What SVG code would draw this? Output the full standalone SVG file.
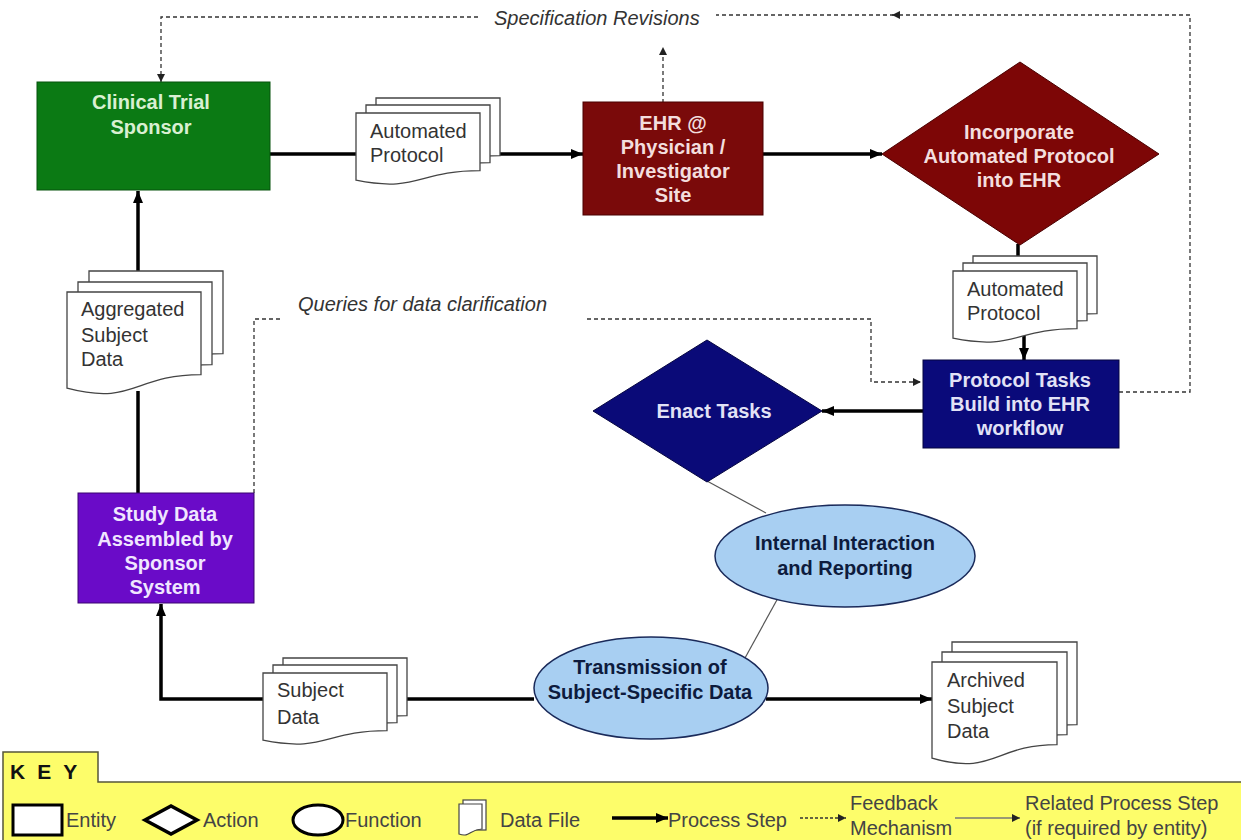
<svg xmlns="http://www.w3.org/2000/svg" width="1241" height="840" viewBox="0 0 1241 840">
<defs>
<style>
.bold{font-family:"Liberation Sans",Arial,sans-serif;font-weight:bold;font-size:20px;text-anchor:middle}
.doc{font-family:"Liberation Sans",Arial,sans-serif;font-size:20px;fill:#333}
.lbl{font-family:"Liberation Sans",Arial,sans-serif;font-style:italic;font-size:20px;fill:#333}
.key{font-family:"Liberation Sans",Arial,sans-serif;font-size:20px;fill:#444}
.page{fill:#fff;stroke:#444;stroke-width:1.3}
.thick{fill:none;stroke:#000;stroke-width:3.5}
.thin{fill:none;stroke:#555;stroke-width:1.2}
.dash{fill:none;stroke:#333;stroke-width:1.3;stroke-dasharray:4 3}
</style>
<marker id="ah" markerUnits="userSpaceOnUse" markerWidth="12" markerHeight="10" refX="12" refY="5" orient="auto"><path d="M0,0 L12,5 L0,10 z" fill="#000"/></marker>
<marker id="ahs" markerUnits="userSpaceOnUse" markerWidth="8" markerHeight="8" refX="8" refY="4" orient="auto"><path d="M0,0 L8,4 L0,8 z" fill="#222"/></marker>
<path id="doc72" d="M0,0 H124 V57.7 C62,57.7 62,79.7 0,67.2 Z"/>
<path id="doc103" d="M0,0 H134 V82.6 C67,82.6 67,114 0,96.2 Z"/>
<path id="doc103b" d="M0,0 H125 V82.6 C62.5,82.6 62.5,114 0,96.2 Z"/>
</defs>
<rect width="1241" height="840" fill="#fff"/>

<g id="connectors">
<path class="thick" d="M270,154 H356"/>
<path class="thick" d="M500,154 H583" marker-end="url(#ah)"/>
<path class="thick" d="M763,154 H882" marker-end="url(#ah)"/>
<path class="thick" d="M1018,244 V258"/>
<path class="thick" d="M1024,334 V360" marker-end="url(#ah)"/>
<path class="thick" d="M923,411 H822" marker-end="url(#ah)"/>
<path class="thin" d="M707,481 L766,513"/>
<path class="thin" d="M778,598 L745,658"/>
<path class="thick" d="M534,699 H407"/>
<path class="thick" d="M263,699 H161 V604" marker-end="url(#ah)"/>
<path class="thick" d="M766,699 H932" marker-end="url(#ah)"/>
<path class="thick" d="M138,493 V391"/>
<path class="thick" d="M138,271 V191" marker-end="url(#ah)"/>
<path class="dash" d="M254,493 V319 H283"/>
<path class="dash" d="M587,319 H871 V382 H921" marker-end="url(#ahs)"/>
<path class="dash" d="M1119,392 H1190 V15 H892" marker-end="url(#ahs)"/>
<path class="dash" d="M894,15 H716"/>
<path class="dash" d="M478,17 H161 V82" marker-end="url(#ahs)"/>
<path class="dash" d="M663,103 V47" marker-end="url(#ahs)"/>
<text class="lbl" x="494" y="25">Specification Revisions</text>
<text class="lbl" x="298" y="311">Queries for data clarification</text>
</g>

<g id="sponsor">
<rect x="37" y="82" width="233" height="108" fill="#0b7a14" stroke="#06520c" stroke-width="1"/>
<text class="bold" x="151" y="109" fill="#d9f0d2">Clinical Trial</text>
<text class="bold" x="151" y="134" fill="#d9f0d2">Sponsor</text>
</g>

<g id="file-protocol-1">
<use href="#doc72" class="page" x="376" y="98"/>
<use href="#doc72" class="page" x="366" y="105"/>
<use href="#doc72" class="page" x="356" y="113"/>
<text class="doc" x="370" y="138">Automated</text>
<text class="doc" x="370" y="162">Protocol</text>
</g>

<g id="ehr">
<rect x="583" y="102" width="180" height="113" fill="#7a0a0a" stroke="#4a0000" stroke-width="1"/>
<text class="bold" x="673" y="130" fill="#f3dede">EHR @</text>
<text class="bold" x="673" y="154" fill="#f3dede">Physician /</text>
<text class="bold" x="673" y="178" fill="#f3dede">Investigator</text>
<text class="bold" x="673" y="202" fill="#f3dede">Site</text>
</g>

<g id="incorporate">
<polygon points="882,154 1020,62 1159,154 1020,245" fill="#7d0606" stroke="#4a0000" stroke-width="1"/>
<text class="bold" x="1019" y="139" fill="#f3dede">Incorporate</text>
<text class="bold" x="1019" y="163" fill="#f3dede">Automated Protocol</text>
<text class="bold" x="1019" y="187" fill="#f3dede">into EHR</text>
</g>

<g id="file-protocol-2">
<use href="#doc72" class="page" x="973" y="256"/>
<use href="#doc72" class="page" x="963" y="263"/>
<use href="#doc72" class="page" x="953" y="271"/>
<text class="doc" x="967" y="296">Automated</text>
<text class="doc" x="967" y="320">Protocol</text>
</g>

<g id="protocol-tasks">
<rect x="923" y="360" width="196" height="88" fill="#0a0a7a" stroke="#050540" stroke-width="1"/>
<text class="bold" x="1020" y="387" fill="#e2e2f6">Protocol Tasks</text>
<text class="bold" x="1020" y="411" fill="#e2e2f6">Build into EHR</text>
<text class="bold" x="1020" y="435" fill="#e2e2f6">workflow</text>
</g>

<g id="enact">
<polygon points="593,411 707,340 822,411 707,482" fill="#0a0a78" stroke="#050540" stroke-width="1"/>
<text class="bold" x="714" y="418" fill="#e2e2f6">Enact Tasks</text>
</g>

<g id="internal">
<ellipse cx="845" cy="556" rx="130" ry="51" fill="#a8cff2" stroke="#1a2a5a" stroke-width="1.5"/>
<text class="bold" x="845" y="550" fill="#0d1b3d">Internal Interaction</text>
<text class="bold" x="845" y="575" fill="#0d1b3d">and Reporting</text>
</g>

<g id="transmission">
<ellipse cx="651" cy="688" rx="117" ry="51" fill="#a8cff2" stroke="#1a2a5a" stroke-width="1.5"/>
<text class="bold" x="650" y="674" fill="#0d1b3d">Transmission of</text>
<text class="bold" x="650" y="699" fill="#0d1b3d">Subject-Specific Data</text>
</g>

<g id="file-archived">
<use href="#doc103b" class="page" x="952" y="642"/>
<use href="#doc103b" class="page" x="942" y="652"/>
<use href="#doc103b" class="page" x="932" y="662"/>
<text class="doc" x="947" y="687">Archived</text>
<text class="doc" x="947" y="713">Subject</text>
<text class="doc" x="947" y="738">Data</text>
</g>

<g id="file-subject">
<use href="#doc72" class="page" x="283" y="658"/>
<use href="#doc72" class="page" x="273" y="665"/>
<use href="#doc72" class="page" x="263" y="673"/>
<text class="doc" x="277" y="697">Subject</text>
<text class="doc" x="277" y="724">Data</text>
</g>

<g id="study-data">
<rect x="78" y="493" width="176" height="110" fill="#6a0bc8" stroke="#3a0570" stroke-width="1"/>
<text class="bold" x="165" y="521" fill="#f0e6ff">Study Data</text>
<text class="bold" x="165" y="546" fill="#f0e6ff">Assembled by</text>
<text class="bold" x="165" y="570" fill="#f0e6ff">Sponsor</text>
<text class="bold" x="165" y="594" fill="#f0e6ff">System</text>
</g>

<g id="file-aggregated">
<use href="#doc103" class="page" x="89" y="271"/>
<use href="#doc103" class="page" x="78" y="282"/>
<use href="#doc103" class="page" x="67" y="292"/>
<text class="doc" x="81" y="316">Aggregated</text>
<text class="doc" x="81" y="342">Subject</text>
<text class="doc" x="81" y="366">Data</text>
</g>

<g id="key">
<path d="M3,840 V752 H98 V782 H1241 V840 Z" fill="#fdfd6a"/>
<path d="M3,840 V752 H98 V782 H1241" fill="none" stroke="#55553a" stroke-width="1.5"/>
<text x="10" y="779" font-family="Liberation Sans, Arial, sans-serif" font-weight="bold" font-size="21" letter-spacing="12" fill="#111">KEY</text>
<rect x="13" y="805" width="49" height="30" fill="#fff" stroke="#000" stroke-width="3"/>
<text class="key" x="66" y="827">Entity</text>
<polygon points="145,820 171,806 197,820 171,834" fill="#fff" stroke="#000" stroke-width="3.5"/>
<text class="key" x="203" y="827">Action</text>
<ellipse cx="318" cy="820" rx="25" ry="15" fill="#fff" stroke="#000" stroke-width="3"/>
<text class="key" x="345" y="827">Function</text>
<rect x="463" y="800" width="23" height="30" fill="#fff" stroke="#444" stroke-width="1.2"/>
<path d="M459,804 H482 V829 C470,829 470,838 459,834 Z" fill="#fff" stroke="#444" stroke-width="1.2"/>
<text class="key" x="500" y="827">Data File</text>
<path d="M612,818 H668" stroke="#000" stroke-width="3.5" marker-end="url(#ah)"/>
<text class="key" x="668" y="827">Process Step</text>
<path d="M800,818 H846" stroke="#333" stroke-width="1.5" stroke-dasharray="3 2" marker-end="url(#ahs)"/>
<text class="key" x="850" y="810">Feedback</text>
<text class="key" x="850" y="835">Mechanism</text>
<path d="M955,818 H1020" stroke="#777" stroke-width="1.3" marker-end="url(#ahs)"/>
<text class="key" x="1025" y="810">Related Process Step</text>
<text class="key" x="1025" y="835">(if required by entity)</text>
</g>
</svg>
